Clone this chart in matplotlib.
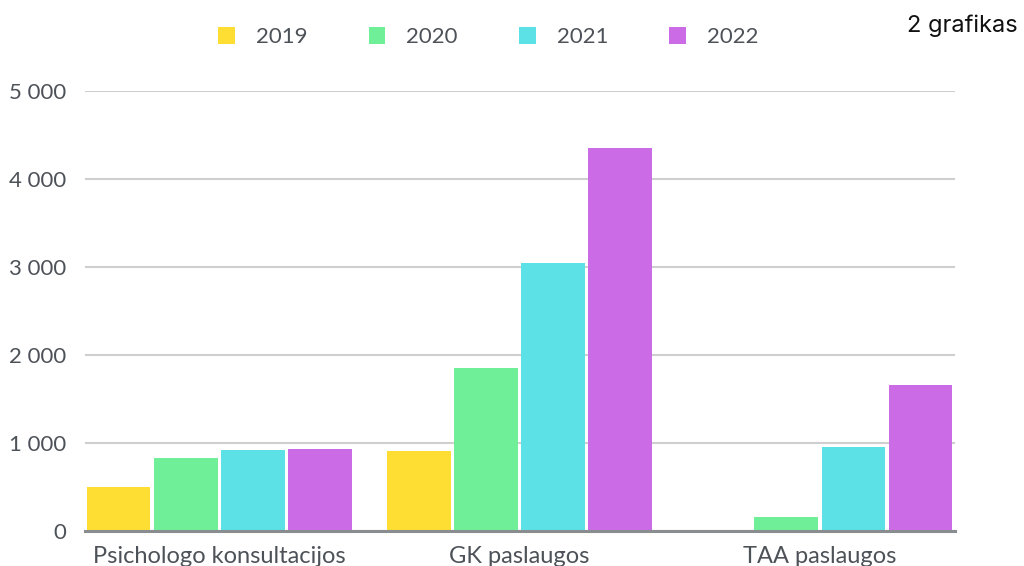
import matplotlib
matplotlib.use("Agg")
import matplotlib.pyplot as plt
import numpy as np
from matplotlib.patches import Patch

categories = ["Psichologo konsultacijos", "GK paslaugos", "TAA paslaugos"]
years = ["2019", "2020", "2021", "2022"]
v2019 = [500, 910, 0]
v2020 = [830, 1850, 160]
v2021 = [920, 3050, 955]
v2022 = [930, 4360, 1660]
series = [v2019, v2020, v2021, v2022]
colors = ["#FFDE34", "#6FEF97", "#5CE1E6", "#CB6CE6"]
yticks = [0, 1000, 2000, 3000, 4000, 5000]
ytick_labels = ["0", "1 000", "2 000", "3 000", "4 000", "5 000"]

plt.rcParams['font.family'] = ['Lato', 'DejaVu Sans']
text_color = "#4d5258"

fig = plt.figure(figsize=(10.24, 5.66), dpi=100)
ax = fig.add_axes([0.083, 0.0618, 0.8496, 0.777])

x = np.arange(len(categories))
slot = 0.2233
bw = 0.212
for i, (vals, c) in enumerate(zip(series, colors)):
    ax.bar(x + (i - 1.5) * slot, vals, width=bw, color=c, zorder=3)

ax.set_xlim(-0.447, 2.45)
ax.set_ylim(0, 5000)
ax.set_yticks(yticks)
ax.set_yticklabels(ytick_labels)
ax.set_xticks(x)
ax.set_xticklabels(categories)
ax.tick_params(axis='both', length=0, colors=text_color)
ax.tick_params(axis='y', pad=13.5, labelsize=16)
ax.tick_params(axis='x', pad=11, labelsize=17)
ax.grid(axis='y', color="#cfcfd2", linewidth=1.5, zorder=0)
for s in ["top", "right", "left"]:
    ax.spines[s].set_visible(False)
ax.spines["bottom"].set_color("#8a8d8f")
ax.spines["bottom"].set_linewidth(2.2)
ax.spines["bottom"].set_zorder(4)

handles = [Patch(facecolor=c, edgecolor='none') for c in colors]
fig.legend(handles, years, loc='center', bbox_to_anchor=(0.477, 0.934), ncol=4,
           frameon=False, fontsize=16, labelcolor=text_color,
           handlelength=0.75, handleheight=0.75, handletextpad=0.95, columnspacing=2.75)

fig.text(0.994, 0.955, "2 grafikas", ha='right', va='center', fontsize=17,
         color="#111111", family=['Inter', 'DejaVu Sans'])

fig.savefig("out.png", dpi=100)
